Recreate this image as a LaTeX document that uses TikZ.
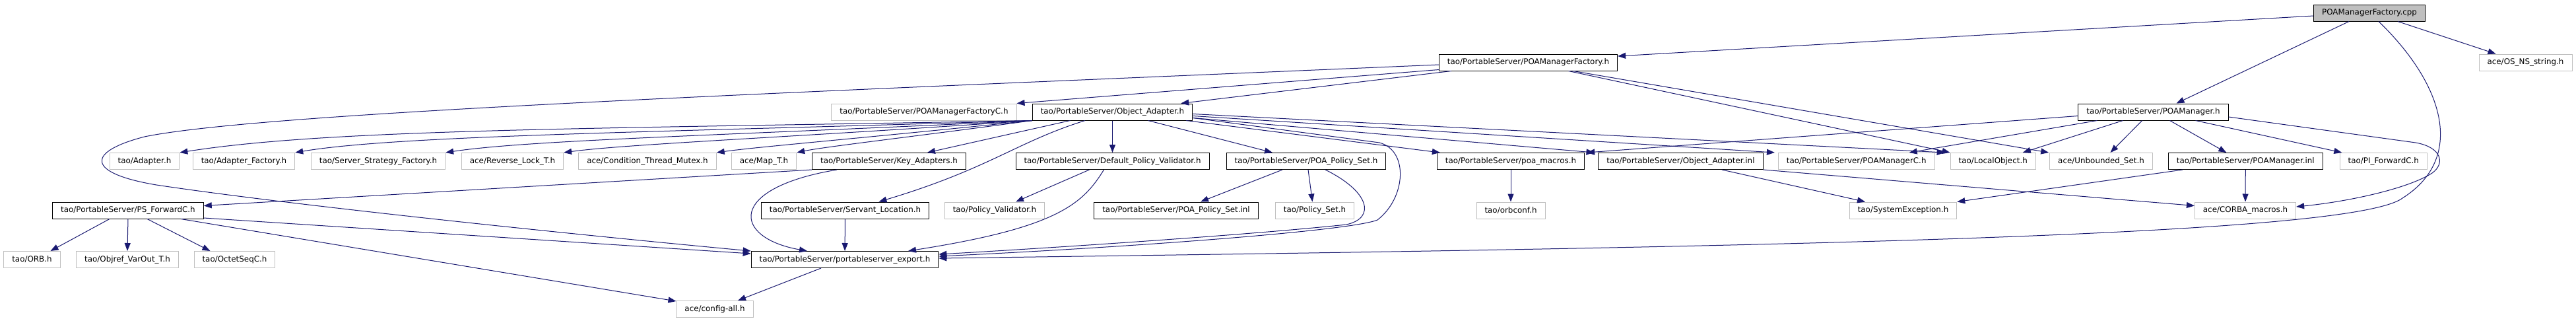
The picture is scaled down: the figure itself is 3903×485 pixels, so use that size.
\documentclass[tikz,border=0pt]{standalone}
\usepackage{fontspec}
\setmainfont{DejaVu Sans}
\usepackage{xcolor}
\usepackage{tikz}
\usetikzlibrary{arrows.meta}
\definecolor{edgeblue}{HTML}{191970}
\definecolor{boxgray}{HTML}{BFBFBF}
\tikzset{
	dep/.style={->, draw=edgeblue, line width=1pt}, % one include
	>={Triangle[length=12pt,width=9pt]}, % graphviz like heads
	incfile/.style={rectangle, draw=boxgray, line width=1pt, minimum height=25pt,
		inner xsep=12.5pt, inner ysep=0pt, font=\fontsize{11.9}{14}\selectfont},
	ownfile/.style={incfile, draw=black},
	rootfile/.style={ownfile, fill=boxgray},
}
\begin{document}
\begin{tikzpicture}[x=1pt, y=-1pt]
      \useasboundingbox (0,0) rectangle (3903,485);
      % rows 1 to 3
      \node[rootfile] (cpp) at (3590,19.5) {POAManagerFactory.cpp};
      \node[ownfile] (pmf) at (2315.5,94.5) {tao/PortableServer/POAManagerFactory.h};
      \node[incfile] (osstr) at (3826.5,94.5) {ace/OS\_NS\_string.h};
      \node[incfile] (pmfc) at (1400,169.5) {tao/PortableServer/POAManagerFactoryC.h};
      \node[ownfile] (oa) at (1685.5,169.5) {tao/PortableServer/Object\_Adapter.h};
      \node[ownfile] (pm) at (3262.5,169.5) {tao/PortableServer/POAManager.h};
      % row 4
      \node[incfile] (adapter) at (219,244) {tao/Adapter.h};
      \node[incfile] (adfact) at (369.5,244) {tao/Adapter\_Factory.h};
      \node[incfile] (ssf) at (573,244) {tao/Server\_Strategy\_Factory.h};
      \node[incfile] (revlock) at (776.5,244) {ace/Reverse\_Lock\_T.h};
      \node[incfile] (condmutex) at (981,244) {ace/Condition\_Thread\_Mutex.h};
      \node[incfile] (mapt) at (1157.5,244) {ace/Map\_T.h};
      \node[ownfile] (keyad) at (1347,244) {tao/PortableServer/Key\_Adapters.h};
      \node[ownfile] (dpv) at (1685.5,244) {tao/PortableServer/Default\_Policy\_Validator.h};
      \node[ownfile] (polset) at (1979,244) {tao/PortableServer/POA\_Policy\_Set.h};
      \node[ownfile] (poamac) at (2289,244) {tao/PortableServer/poa\_macros.h};
      \node[ownfile] (oainl) at (2546.5,244) {tao/PortableServer/Object\_Adapter.inl};
      \node[incfile] (pmc) at (2812.7,244) {tao/PortableServer/POAManagerC.h};
      \node[incfile] (localobj) at (3019.7,244) {tao/LocalObject.h};
      \node[incfile] (uset) at (3183.5,244) {ace/Unbounded\_Set.h};
      \node[ownfile] (pminl) at (3402.3,244) {tao/PortableServer/POAManager.inl};
      \node[incfile] (pifwd) at (3611.3,244) {tao/PI\_ForwardC.h};
      % row 5
      \node[ownfile] (psfwd) at (194,318.5) {tao/PortableServer/PS\_ForwardC.h};
      \node[ownfile] (servloc) at (1280.5,318.5) {tao/PortableServer/Servant\_Location.h};
      \node[incfile] (polval) at (1507,318.5) {tao/Policy\_Validator.h};
      \node[ownfile] (polsetinl) at (1782,318.5) {tao/PortableServer/POA\_Policy\_Set.inl};
      \node[incfile] (polseth) at (1992,318.5) {tao/Policy\_Set.h};
      \node[incfile] (orbconf) at (2289,318.5) {tao/orbconf.h};
      \node[incfile] (sysex) at (2883.5,318.5) {tao/SystemException.h};
      \node[incfile] (corba) at (3402,318.5) {ace/CORBA\_macros.h};
      % rows 6 and 7
      \node[incfile] (orb) at (48.5,393) {tao/ORB.h};
      \node[incfile] (objref) at (193,393) {tao/Objref\_VarOut\_T.h};
      \node[incfile] (octet) at (355.5,393) {tao/OctetSeqC.h};
      \node[ownfile] (export) at (1280,393) {tao/PortableServer/portableserver\_export.h};
      \node[incfile] (config) at (1083,468) {ace/config-all.h};

      % POAManagerFactory.cpp
      \draw[dep] ([yshift=-4.5pt]cpp.west) -- ([yshift=9.5pt]pmf.east);
      \draw[dep] ([xshift=-31pt]cpp.south) -- ([xshift=35pt]pm.north);
      \draw[dep] ([xshift=43pt]cpp.south) -- ([xshift=-45pt]osstr.north);
      \draw[dep] ([xshift=14pt]cpp.south) .. controls (3705,130) and (3735,240) .. (3640,300)
            .. controls (3560,360) and (2600,375) .. ([yshift=2pt]export.east);
      % POAManagerFactory.h
      \draw[dep] ([yshift=-3.5pt]pmf.west) .. controls (1200,140) and (400,170) .. (219,207)
            .. controls (130,230) and (130,262) .. (237,280)
            .. controls (450,312) and (900,358) .. (export.north west);
      \draw[dep] ([yshift=2pt]pmf.south west) -- (pmfc.north east);
      \draw[dep] ([xshift=19pt]pmf.south west) -- ([xshift=-18pt]oa.north east);
      \draw[dep] ([xshift=61pt]pmf.south) -- (localobj.north west);
      \draw[dep] ([xshift=68pt]pmf.south) -- ([xshift=-1pt]uset.north west);
      % POAManager.h
      \draw[dep] ([yshift=-6pt]pm.west) -- ([xshift=3pt]poamac.north east);
      \draw[dep] ([xshift=-85pt]pm.south) -- ([xshift=80pt]pmc.north);
      \draw[dep] ([xshift=-46pt]pm.south) -- ([xshift=45pt]localobj.north);
      \draw[dep] ([xshift=-17pt]pm.south) -- ([xshift=14pt]uset.north);
      \draw[dep] ([xshift=25pt]pm.south) -- ([xshift=-29pt]pminl.north);
      \draw[dep] ([xshift=64pt]pm.south) -- ([xshift=-63pt]pifwd.north);
      \draw[dep] ([yshift=-7.5pt]pm.east) -- (3660,216) .. controls (3700,223) and (3705,248) .. (3685,262)
            .. controls (3650,285) and (3560,305) .. ([yshift=5.5pt]corba.east);
      % Object_Adapter.h
      \draw[dep] (oa.south west) .. controls (900,195) and (500,195) .. (adapter.north east);
      \draw[dep] (oa.south west) .. controls (1000,200) and (600,205) .. (adfact.north east);
      \draw[dep] (oa.south west) .. controls (1100,205) and (800,212) .. (ssf.north east);
      \draw[dep] (oa.south west) .. controls (1200,208) and (950,218) .. (revlock.north east);
      \draw[dep] (oa.south west) .. controls (1300,210) and (1150,222) .. (condmutex.north east);
      \draw[dep] (oa.south west) .. controls (1400,205) and (1250,222) .. (mapt.north east);
      \draw[dep] ([xshift=-64pt]oa.south) -- ([xshift=58pt]keyad.north);
      \draw[dep] ([xshift=-41.5pt]oa.south) .. controls (1540,215) and (1500,255) .. ([xshift=51pt]servloc.north);
      \draw[dep] (oa) -- (dpv);
      \draw[dep] ([xshift=54pt]oa.south) -- ([xshift=-51pt]polset.north);
      \draw[dep] ([xshift=-10pt]oa.south east) -- ([xshift=5pt]poamac.north west);
      \draw[dep] ([yshift=-9pt]oa.east) -- ([xshift=-6pt]oainl.north west);
      \draw[dep] ([yshift=-6pt]oa.east) -- ([xshift=-5pt]pmc.north west);
      \draw[dep] ([yshift=-3pt]oa.east) -- ([xshift=-8pt]localobj.north west);
      \draw[dep] ([yshift=-9pt]oa.east) -- (2090,216) .. controls (2135,228) and (2130,300) .. (2087,333)
            .. controls (2045,350) and (1700,375) .. ([yshift=5pt]export.east);
      % row 4 and below
      \draw[dep] (keyad.south west) -- ([yshift=7pt]psfwd.east);
      \draw[dep] ([xshift=-79pt]keyad.south) .. controls (1100,285) and (1110,360) .. ([xshift=-57pt]export.north);
      \draw[dep] ([xshift=-35pt]dpv.south) -- ([xshift=32pt]polval.north);
      \draw[dep] ([xshift=-13pt]dpv.south) .. controls (1640,310) and (1600,345) .. ([xshift=96pt]export.north);
      \draw[dep] ([xshift=-36pt]polset.south) -- ([xshift=37pt]polsetinl.north);
      \draw[dep] ([xshift=3pt]polset.south) -- ([xshift=-3.5pt]polseth.north);
      \draw[dep] ([xshift=29pt]polset.south) .. controls (2075,290) and (2085,330) .. (2040,340)
            .. controls (1900,355) and (1600,375) .. ([yshift=8pt]export.east);
      \draw[dep] (poamac) -- (orbconf);
      \draw[dep] ([xshift=62.5pt]oainl.south) -- ([xshift=-57.5pt]sysex.north);
      \draw[dep] (oainl.south east) -- ([yshift=-6pt]corba.north west);
      \draw[dep] ([xshift=22pt]pminl.south west) -- (sysex.north east);
      \draw[dep] (pminl) -- (corba);
      % PS_ForwardC.h and the export header
      \draw[dep] ([xshift=-28pt]psfwd.south) -- ([xshift=28pt]orb.north);
      \draw[dep] (psfwd.south) -- (objref.north);
      \draw[dep] ([xshift=29pt]psfwd.south) -- ([xshift=-37pt]octet.north);
      \draw[dep] ([yshift=-11.5pt]psfwd.east) -- ([yshift=-4pt]export.north west);
      \draw[dep] ([xshift=80pt]psfwd.south) -- ([yshift=-1pt]config.north west);
      \draw[dep] (servloc) -- (export);
      \draw[dep] ([xshift=-36pt]export.south) -- ([xshift=35pt]config.north);
\end{tikzpicture}
\end{document}
